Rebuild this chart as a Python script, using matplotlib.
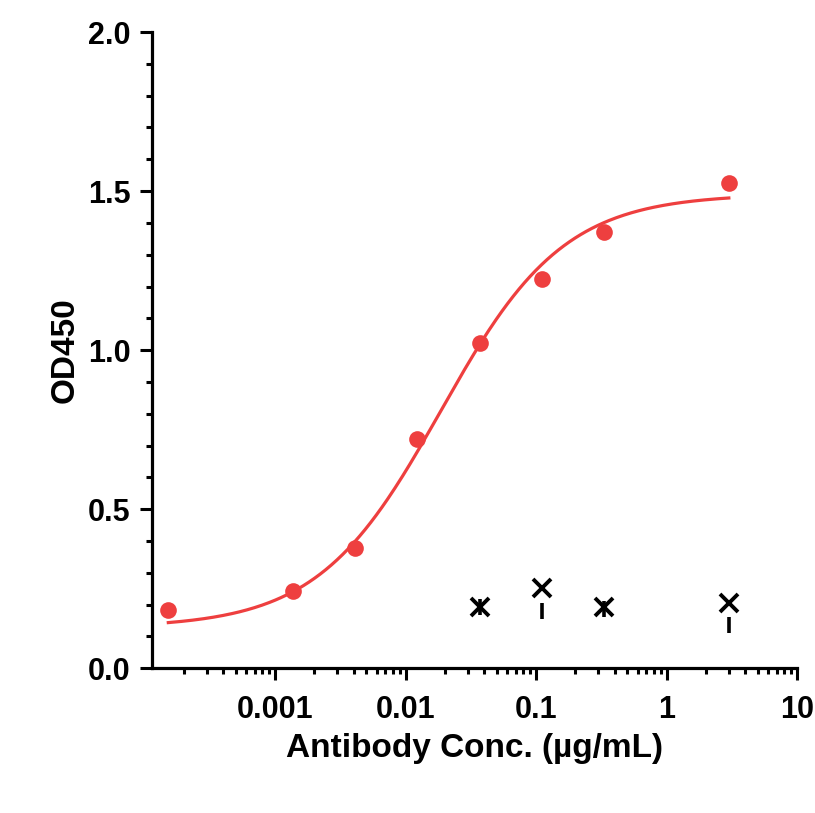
import numpy as np
import matplotlib
matplotlib.use("Agg")
import matplotlib.pyplot as plt
from matplotlib.ticker import LogLocator, MultipleLocator, FixedLocator, NullFormatter

plt.rcParams["font.family"] = ["Liberation Sans", "DejaVu Sans"]
plt.rcParams["font.weight"] = "bold"

# antibody binding (red)
conc = [0.000152, 0.00137, 0.00412, 0.0123, 0.037, 0.111, 0.333, 3.0]
od = [0.182, 0.242, 0.377, 0.720, 1.022, 1.223, 1.371, 1.525]

# fitted curve at the sample concentrations
curve_od = [0.157, 0.226, 0.393, 0.686, 1.038, 1.245, 1.393, 1.494]

# negative control (black x) and its spread marks
neg_conc = [0.037, 0.111, 0.333, 3.0]
neg_od = [0.192, 0.252, 0.193, 0.204]
neg_bar = [0.192, 0.181, 0.187, 0.137]

red = "#EE3F3F"


def fit_4pl(x, y):
    # grid over ec50 / hill, bottom & top by linear least squares
    x = np.asarray(x)
    y = np.asarray(y)
    best = None
    for lc in np.linspace(-3, 0, 301):
        for h in np.linspace(0.4, 2.0, 161):
            g = 1.0 / (1.0 + (10 ** lc / x) ** h)
            A = np.column_stack([1 - g, g])
            coef, *_ = np.linalg.lstsq(A, y, rcond=None)
            err = np.sum((A @ coef - y) ** 2)
            if best is None or err < best[0]:
                best = (err, coef[0], coef[1], 10 ** lc, h)
    return best[1:]


bottom, top, ec50, hill = fit_4pl(conc, curve_od)

fig = plt.figure(figsize=(8.15, 8.13), dpi=100)
ax = fig.add_axes([0.1865, 0.178, 0.7915, 0.7826])

xs = np.logspace(np.log10(conc[0]), np.log10(conc[-1]), 300)
ys = bottom + (top - bottom) / (1 + (ec50 / xs) ** hill)
ax.plot(xs, ys, color=red, lw=2.3, zorder=2)
ax.plot(conc, od, "o", color=red, ms=12, mec="none", zorder=3)

ax.plot(neg_conc, neg_bar, "|", color="black", ms=11, mew=2.6, zorder=3)
ax.plot(neg_conc, neg_od, "x", color="black", ms=12.5, mew=2.8, zorder=4)

ax.set_xscale("log")
ax.set_xlim(1.14e-4, 10)
ax.set_ylim(0, 2.0)

ax.xaxis.set_major_locator(FixedLocator([0.001, 0.01, 0.1, 1, 10]))
ax.set_xticklabels(["0.001", "0.01", "0.1", "1", "10"])
ax.xaxis.set_minor_locator(LogLocator(base=10, subs=np.arange(2, 10), numticks=20))
ax.xaxis.set_minor_formatter(NullFormatter())

ax.yaxis.set_major_locator(MultipleLocator(0.5))
ax.yaxis.set_minor_locator(MultipleLocator(0.1))
ax.set_yticklabels([f"{v:.1f}" for v in ax.get_yticks()])

for s in ["top", "right"]:
    ax.spines[s].set_visible(False)
for s in ["left", "bottom"]:
    ax.spines[s].set_linewidth(2.3)

ax.tick_params(axis="both", which="major", length=8.5, width=2.2, labelsize=22)
ax.tick_params(axis="both", which="minor", length=4.5, width=2.2)
ax.tick_params(axis="x", which="major", pad=10.5)
ax.tick_params(axis="y", which="major", pad=7)

ax.set_xlabel("Antibody Conc. (µg/mL)", fontsize=24, fontweight="bold", labelpad=6)
ax.set_ylabel("OD450", fontsize=24, fontweight="bold", labelpad=5)

fig.savefig("out.png", dpi=100)
